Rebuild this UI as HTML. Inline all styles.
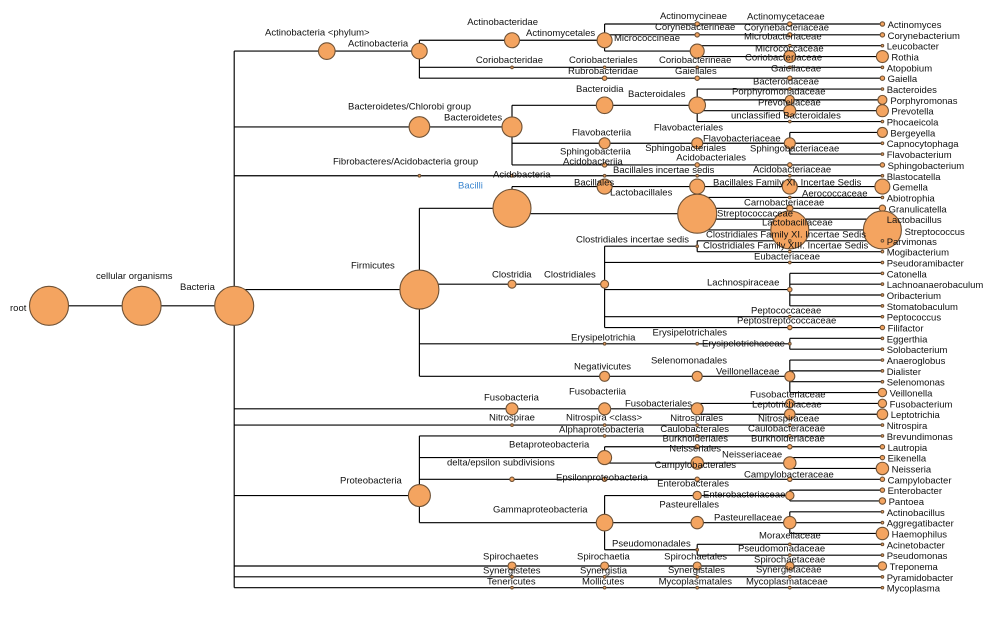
<!DOCTYPE html>
<html><head><meta charset="utf-8"><style>
html,body{margin:0;padding:0;background:#fff;}
svg{display:block;}
text{font-family:"Liberation Sans",Arial,sans-serif;font-size:9.5px;fill:#111;}
.e{text-anchor:end;}
circle{fill:#f4a460;stroke:#6f5236;stroke-width:1.1;}
</style></head><body>
<svg width="1007" height="618" viewBox="0 0 1007 618" xmlns="http://www.w3.org/2000/svg">
<rect width="1007" height="618" fill="#fff"/>
<path fill="none" stroke="#000" stroke-width="1.15" d="
M604.6 24H882.4M604.6 34.84H882.4M419.4 40.26H604.6M697.2 45.68H882.4M234.2 51.1H419.4M604.6 51.1H697.2M697.2 56.52H882.4
M419.4 67.36H882.4M419.4 78.2H882.4M697.2 89.04H882.4M697.2 99.88H882.4M512 105.3H697.2M697.2 110.72H882.4M697.2 121.56H882.4
M234.2 126.98H512M789.8 132.4H882.4M512 143.24H882.4M789.8 154.08H882.4M512 164.92H882.4M234.2 175.76H882.4M512 186.6H882.4
M697.2 197.44H882.4M419.4 208.28H512M697.2 208.28H882.4M512 213.7H697.2M697.2 219.12H882.4M697.2 229.96H882.4M697.2 240.8H882.4
M604.6 246.22H697.2M697.2 251.64H882.4M604.6 262.48H882.4M789.8 273.32H882.4M419.4 284.16H604.6M789.8 284.16H882.4
M234.2 289.58H419.4M604.6 289.58H789.8M789.8 295H882.4M49 305.84H234.2M789.8 305.84H882.4M604.6 316.68H882.4M604.6 327.52H882.4
M789.8 338.36H882.4M419.4 343.78H789.8M789.8 349.2H882.4M789.8 360.04H882.4M789.8 370.88H882.4M419.4 376.3H789.8M789.8 381.72H882.4
M789.8 392.56H882.4M697.2 403.4H882.4M234.2 408.82H697.2M697.2 414.24H882.4M234.2 425.08H882.4M419.4 435.92H882.4M604.6 446.76H882.4
M419.4 457.6H604.6M789.8 457.6H882.4M604.6 463.02H789.8M789.8 468.44H882.4M419.4 479.28H882.4M789.8 490.12H882.4M234.2 495.54H419.4
M604.6 495.54H789.8M789.8 500.96H882.4M789.8 511.8H882.4M419.4 522.64H882.4M789.8 533.48H882.4M697.2 544.32H882.4M604.6 549.74H697.2
M697.2 555.16H882.4M234.2 566H882.4M234.2 576.84H882.4M234.2 587.68H882.4
M234.2 51.1V587.68M419.4 40.26V78.2M604.6 24V51.1M697.2 45.68V56.52M512 105.3V164.92M697.2 89.04V121.56M789.8 132.4V154.08
M419.4 208.28V376.3M512 186.6V213.7M697.2 197.44V229.96M604.6 246.22V327.52M697.2 240.8V251.64M789.8 273.32V305.84
M789.8 338.36V349.2M789.8 360.04V392.56M697.2 403.4V414.24M419.4 435.92V522.64M604.6 446.76V463.02M789.8 457.6V468.44
M604.6 495.54V549.74M789.8 490.12V500.96M789.8 511.8V533.48M697.2 544.32V555.16"/>

<g>
<circle cx="49" cy="305.84" r="19.5"/>
<circle cx="141.6" cy="305.84" r="19.5"/>
<circle cx="234.2" cy="305.84" r="19.5"/>
<circle cx="326.8" cy="51.1" r="8.3"/>
<circle cx="419.4" cy="51.1" r="7.8"/>
<circle cx="419.4" cy="126.98" r="10.3"/>
<circle cx="419.4" cy="175.76" r="1.3"/>
<circle cx="419.4" cy="289.58" r="19.5"/>
<circle cx="419.4" cy="495.54" r="11"/>

<circle cx="512" cy="40.26" r="7.5"/>
<circle cx="512" cy="67.36" r="1.3"/>
<circle cx="512" cy="126.98" r="10"/>
<circle cx="512" cy="175.76" r="1.3"/>
<circle cx="512" cy="208.28" r="19"/>
<circle cx="512" cy="284.16" r="4"/>
<circle cx="512" cy="408.82" r="6"/>
<circle cx="512" cy="425.08" r="1.3"/>
<circle cx="512" cy="479.28" r="2.2"/>
<circle cx="512" cy="566" r="4"/>
<circle cx="512" cy="576.84" r="1.3"/>
<circle cx="512" cy="587.68" r="1.3"/>

<circle cx="604.6" cy="40.26" r="7.5"/>
<circle cx="604.6" cy="67.36" r="1.3"/>
<circle cx="604.6" cy="78.2" r="2.2"/>
<circle cx="604.6" cy="105.3" r="8.3"/>
<circle cx="604.6" cy="143.24" r="5.5"/>
<circle cx="604.6" cy="164.92" r="2.2"/>
<circle cx="604.6" cy="175.76" r="1.3"/>
<circle cx="604.6" cy="186.6" r="7.5"/>
<circle cx="604.6" cy="284.16" r="4"/>
<circle cx="604.6" cy="343.78" r="1.3"/>
<circle cx="604.6" cy="376.3" r="5"/>
<circle cx="604.6" cy="408.82" r="6"/>
<circle cx="604.6" cy="425.08" r="1.3"/>
<circle cx="604.6" cy="435.92" r="1.3"/>
<circle cx="604.6" cy="457.6" r="7"/>
<circle cx="604.6" cy="479.28" r="2.2"/>
<circle cx="604.6" cy="522.64" r="8.3"/>
<circle cx="604.6" cy="566" r="4"/>
<circle cx="604.6" cy="576.84" r="1.3"/>
<circle cx="604.6" cy="587.68" r="1.3"/>

<circle cx="697.2" cy="24" r="2.2"/>
<circle cx="697.2" cy="34.84" r="2.2"/>
<circle cx="697.2" cy="51.1" r="7"/>
<circle cx="697.2" cy="67.36" r="1.3"/>
<circle cx="697.2" cy="78.2" r="2.2"/>
<circle cx="697.2" cy="105.3" r="8.3"/>
<circle cx="697.2" cy="143.24" r="5.5"/>
<circle cx="697.2" cy="164.92" r="2.2"/>
<circle cx="697.2" cy="175.76" r="1.3"/>
<circle cx="697.2" cy="186.6" r="7.5"/>
<circle cx="697.2" cy="213.7" r="19.5"/>
<circle cx="697.2" cy="246.22" r="1.3"/>
<circle cx="697.2" cy="343.78" r="1.3"/>
<circle cx="697.2" cy="376.3" r="5"/>
<circle cx="697.2" cy="408.82" r="6"/>
<circle cx="697.2" cy="425.08" r="1.3"/>
<circle cx="697.2" cy="435.92" r="1.3"/>
<circle cx="697.2" cy="446.76" r="2.2"/>
<circle cx="697.2" cy="463.02" r="6.2"/>
<circle cx="697.2" cy="479.28" r="2.2"/>
<circle cx="697.2" cy="495.54" r="4.2"/>
<circle cx="697.2" cy="522.64" r="6.2"/>
<circle cx="697.2" cy="549.74" r="1.3"/>
<circle cx="697.2" cy="566" r="4"/>
<circle cx="697.2" cy="576.84" r="1.3"/>
<circle cx="697.2" cy="587.68" r="1.3"/>

<circle cx="789.8" cy="24" r="2.2"/>
<circle cx="789.8" cy="34.84" r="2.2"/>
<circle cx="789.8" cy="45.68" r="1.3"/>
<circle cx="789.8" cy="56.52" r="6"/>
<circle cx="789.8" cy="67.36" r="1.3"/>
<circle cx="789.8" cy="78.2" r="2.2"/>
<circle cx="789.8" cy="89.04" r="1.3"/>
<circle cx="789.8" cy="99.88" r="4.5"/>
<circle cx="789.8" cy="110.72" r="6"/>
<circle cx="789.8" cy="121.56" r="1.3"/>
<circle cx="789.8" cy="143.24" r="5.5"/>
<circle cx="789.8" cy="164.92" r="2.2"/>
<circle cx="789.8" cy="175.76" r="1.3"/>
<circle cx="789.8" cy="186.6" r="7.5"/>
<circle cx="789.8" cy="197.44" r="1.3"/>
<circle cx="789.8" cy="208.28" r="3.2"/>
<circle cx="789.8" cy="219.12" r="1.3"/>
<circle cx="789.8" cy="229.96" r="19"/>
<circle cx="789.8" cy="240.8" r="1.3"/>
<circle cx="789.8" cy="251.64" r="1.3"/>
<circle cx="789.8" cy="262.48" r="1.3"/>
<circle cx="789.8" cy="289.58" r="2.2"/>
<circle cx="789.8" cy="316.68" r="1.3"/>
<circle cx="789.8" cy="327.52" r="2.2"/>
<circle cx="789.8" cy="343.78" r="1.3"/>
<circle cx="789.8" cy="376.3" r="5"/>
<circle cx="789.8" cy="403.4" r="4.2"/>
<circle cx="789.8" cy="414.24" r="5.3"/>
<circle cx="789.8" cy="425.08" r="1.3"/>
<circle cx="789.8" cy="435.92" r="1.3"/>
<circle cx="789.8" cy="446.76" r="2.2"/>
<circle cx="789.8" cy="463.02" r="6.2"/>
<circle cx="789.8" cy="479.28" r="2.2"/>
<circle cx="789.8" cy="495.54" r="4.2"/>
<circle cx="789.8" cy="522.64" r="6.2"/>
<circle cx="789.8" cy="544.32" r="1.3"/>
<circle cx="789.8" cy="555.16" r="1.3"/>
<circle cx="789.8" cy="566" r="4.2"/>
<circle cx="789.8" cy="576.84" r="1.3"/>
<circle cx="789.8" cy="587.68" r="1.3"/>

<circle cx="882.4" cy="24" r="2.2"/>
<circle cx="882.4" cy="34.84" r="2.2"/>
<circle cx="882.4" cy="45.68" r="1.3"/>
<circle cx="882.4" cy="56.52" r="6"/>
<circle cx="882.4" cy="67.36" r="1.3"/>
<circle cx="882.4" cy="78.2" r="2.2"/>
<circle cx="882.4" cy="89.04" r="1.3"/>
<circle cx="882.4" cy="99.88" r="4.5"/>
<circle cx="882.4" cy="110.72" r="6"/>
<circle cx="882.4" cy="121.56" r="1.3"/>
<circle cx="882.4" cy="132.4" r="5"/>
<circle cx="882.4" cy="143.24" r="1.3"/>
<circle cx="882.4" cy="154.08" r="1.3"/>
<circle cx="882.4" cy="164.92" r="2.2"/>
<circle cx="882.4" cy="175.76" r="1.3"/>
<circle cx="882.4" cy="186.6" r="7.5"/>
<circle cx="882.4" cy="197.44" r="1.3"/>
<circle cx="882.4" cy="208.28" r="3.2"/>
<circle cx="882.4" cy="219.12" r="1.3"/>
<circle cx="882.4" cy="229.96" r="19"/>
<circle cx="882.4" cy="240.8" r="1.3"/>
<circle cx="882.4" cy="251.64" r="1.3"/>
<circle cx="882.4" cy="262.48" r="1.3"/>
<circle cx="882.4" cy="273.32" r="1.3"/>
<circle cx="882.4" cy="284.16" r="1.3"/>
<circle cx="882.4" cy="295" r="1.3"/>
<circle cx="882.4" cy="305.84" r="1.3"/>
<circle cx="882.4" cy="316.68" r="1.3"/>
<circle cx="882.4" cy="327.52" r="2.2"/>
<circle cx="882.4" cy="338.36" r="1.3"/>
<circle cx="882.4" cy="349.2" r="1.3"/>
<circle cx="882.4" cy="360.04" r="1.3"/>
<circle cx="882.4" cy="370.88" r="1.3"/>
<circle cx="882.4" cy="381.72" r="1.3"/>
<circle cx="882.4" cy="392.56" r="4.2"/>
<circle cx="882.4" cy="403.4" r="4.2"/>
<circle cx="882.4" cy="414.24" r="5.3"/>
<circle cx="882.4" cy="425.08" r="1.3"/>
<circle cx="882.4" cy="435.92" r="1.3"/>
<circle cx="882.4" cy="446.76" r="2.2"/>
<circle cx="882.4" cy="457.6" r="2.2"/>
<circle cx="882.4" cy="468.44" r="6.2"/>
<circle cx="882.4" cy="479.28" r="2.2"/>
<circle cx="882.4" cy="490.12" r="2.2"/>
<circle cx="882.4" cy="500.96" r="3.2"/>
<circle cx="882.4" cy="511.8" r="1.3"/>
<circle cx="882.4" cy="522.64" r="1.3"/>
<circle cx="882.4" cy="533.48" r="6.2"/>
<circle cx="882.4" cy="544.32" r="1.3"/>
<circle cx="882.4" cy="555.16" r="1.3"/>
<circle cx="882.4" cy="566" r="4.2"/>
<circle cx="882.4" cy="576.84" r="1.3"/>
<circle cx="882.4" cy="587.68" r="1.3"/>
</g>

<g>
<text x="10" y="311">root</text>
<text x="96" y="279">cellular organisms</text>
<text x="180" y="290">Bacteria</text>
<text x="265" y="35.5">Actinobacteria &lt;phylum&gt;</text>
<text x="348" y="46.5">Actinobacteria</text>
<text x="348" y="109.5">Bacteroidetes/Chlorobi group</text>
<text x="444" y="120.5">Bacteroidetes</text>
<text x="333" y="164.5">Fibrobacteres/Acidobacteria group</text>
<text x="458" y="188.5" style="fill:#3a86d0">Bacilli</text>
<text x="351" y="268.5">Firmicutes</text>
<text x="340" y="483.5">Proteobacteria</text>

<text class="e" x="538" y="25">Actinobacteridae</text>
<text x="526" y="36">Actinomycetales</text>
<text class="e" x="543" y="63">Coriobacteridae</text>
<text x="569" y="63">Coriobacteriales</text>
<text x="568" y="74">Rubrobacteridae</text>
<text x="614" y="41">Micrococcineae</text>
<text class="e" x="727" y="19">Actinomycineae</text>
<text x="655" y="30">Corynebacterineae</text>
<text x="659" y="63">Coriobacterineae</text>
<text x="675" y="74">Gaiellales</text>
<text x="576" y="92">Bacteroidia</text>
<text x="628" y="97">Bacteroidales</text>
<text x="572" y="135.5">Flavobacteriia</text>
<text class="e" x="723" y="130.5">Flavobacteriales</text>
<text x="560" y="154.5">Sphingobacteriia</text>
<text class="e" x="726" y="151">Sphingobacteriales</text>
<text x="563" y="164.5">Acidobacteriia</text>
<text class="e" x="746" y="160.5">Acidobacteriales</text>
<text x="493" y="177.5">Acidobacteria</text>
<text x="613" y="173">Bacillales incertae sedis</text>
<text x="574" y="185.5">Bacillales</text>
<text x="610" y="195.5">Lactobacillales</text>
<text x="576" y="242.5">Clostridiales incertae sedis</text>
<text x="492" y="277.5">Clostridia</text>
<text x="544" y="277.5">Clostridiales</text>
<text x="571" y="340.5">Erysipelotrichia</text>
<text class="e" x="727" y="335.5">Erysipelotrichales</text>
<text x="574" y="369.5">Negativicutes</text>
<text class="e" x="727" y="363.5">Selenomonadales</text>
<text x="484" y="400.5">Fusobacteria</text>
<text x="569" y="394.5">Fusobacteriia</text>
<text x="625" y="406.5">Fusobacteriales</text>
<text x="489" y="420.5">Nitrospirae</text>
<text x="566" y="420.5">Nitrospira &lt;class&gt;</text>
<text class="e" x="723" y="421">Nitrospirales</text>
<text x="559" y="432.5">Alphaproteobacteria</text>
<text class="e" x="729" y="432">Caulobacterales</text>
<text x="509" y="447.5">Betaproteobacteria</text>
<text class="e" x="728" y="441.5">Burkholderiales</text>
<text class="e" x="721" y="451.5">Neisseriales</text>
<text x="447" y="465.5">delta/epsilon subdivisions</text>
<text class="e" x="736" y="468">Campylobacterales</text>
<text x="556" y="480.5">Epsilonproteobacteria</text>
<text class="e" x="729" y="486.5">Enterobacterales</text>
<text x="493" y="512.5">Gammaproteobacteria</text>
<text class="e" x="719" y="507.5">Pasteurellales</text>
<text x="612" y="546.5">Pseudomonadales</text>
<text x="483" y="559.5">Spirochaetes</text>
<text x="577" y="559.5">Spirochaetia</text>
<text class="e" x="727" y="559.5">Spirochaetales</text>
<text x="483" y="573.5">Synergistetes</text>
<text x="580" y="573.5">Synergistia</text>
<text class="e" x="725" y="573">Synergistales</text>
<text x="487" y="584.5">Tenericutes</text>
<text x="582" y="584.5">Mollicutes</text>
<text class="e" x="732" y="584.5">Mycoplasmatales</text>

<text x="747" y="19.5">Actinomycetaceae</text>
<text x="744" y="30.5">Corynebacteriaceae</text>
<text x="744" y="39.5">Microbacteriaceae</text>
<text x="755" y="51.5">Micrococcaceae</text>
<text x="745" y="60.5">Coriobacteriaceae</text>
<text x="771" y="71.5">Gaiellaceae</text>
<text x="753" y="84.5">Bacteroidaceae</text>
<text x="732" y="94.5">Porphyromonadaceae</text>
<text x="758" y="105.5">Prevotellaceae</text>
<text x="731" y="118.5">unclassified Bacteroidales</text>
<text x="703" y="141.5">Flavobacteriaceae</text>
<text x="750" y="151.5">Sphingobacteriaceae</text>
<text x="753" y="172.5">Acidobacteriaceae</text>
<text x="713" y="185.5">Bacillales Family XI. Incertae Sedis</text>
<text x="802" y="196.5">Aerococcaceae</text>
<text x="744" y="205.5">Carnobacteriaceae</text>
<text x="717" y="216.5">Streptococcaceae</text>
<text x="762" y="225.5">Lactobacillaceae</text>
<text x="706" y="237.5">Clostridiales Family XI. Incertae Sedis</text>
<text x="703" y="248.5">Clostridiales Family XIII. Incertae Sedis</text>
<text x="754" y="259.5">Eubacteriaceae</text>
<text x="707" y="285.5">Lachnospiraceae</text>
<text x="751" y="313.5">Peptococcaceae</text>
<text x="737" y="323.5">Peptostreptococcaceae</text>
<text x="702" y="346.5">Erysipelotrichaceae</text>
<text x="716" y="374.5">Veillonellaceae</text>
<text x="750" y="397.5">Fusobacteriaceae</text>
<text x="752" y="407.5">Leptotrichiaceae</text>
<text x="758" y="421.5">Nitrospiraceae</text>
<text x="748" y="431.5">Caulobacteraceae</text>
<text x="751" y="441.5">Burkholderiaceae</text>
<text x="722" y="457.5">Neisseriaceae</text>
<text x="744" y="477.5">Campylobacteraceae</text>
<text x="703" y="497.5">Enterobacteriaceae</text>
<text x="714" y="520.5">Pasteurellaceae</text>
<text x="759" y="538.5">Moraxellaceae</text>
<text x="738" y="551.5">Pseudomonadaceae</text>
<text x="754" y="562.5">Spirochaetaceae</text>
<text x="756" y="572.5">Synergistaceae</text>
<text x="746" y="584.5">Mycoplasmataceae</text>

<text x="887.6" y="28">Actinomyces</text>
<text x="887.6" y="38.84">Corynebacterium</text>
<text x="886.7" y="49.68">Leucobacter</text>
<text x="891.4" y="60.52">Rothia</text>
<text x="886.7" y="71.36">Atopobium</text>
<text x="887.6" y="82.2">Gaiella</text>
<text x="886.7" y="93.04">Bacteroides</text>
<text x="890.4" y="104">Porphyromonas</text>
<text x="891.4" y="114.72">Prevotella</text>
<text x="886.7" y="125.56">Phocaeicola</text>
<text x="890.4" y="136.4">Bergeyella</text>
<text x="886.7" y="147.24">Capnocytophaga</text>
<text x="886.7" y="158.08">Flavobacterium</text>
<text x="887.6" y="168.92">Sphingobacterium</text>
<text x="886.7" y="179.76">Blastocatella</text>
<text x="892.5" y="190.6">Gemella</text>
<text x="886.7" y="201.44">Abiotrophia</text>
<text x="888.6" y="212.28">Granulicatella</text>
<text x="886.7" y="223.12">Lactobacillus</text>
<text x="904.6" y="235">Streptococcus</text>
<text x="886.7" y="244.8">Parvimonas</text>
<text x="886.7" y="255.64">Mogibacterium</text>
<text x="886.7" y="266.48">Pseudoramibacter</text>
<text x="886.7" y="277.32">Catonella</text>
<text x="886.7" y="288.16">Lachnoanaerobaculum</text>
<text x="886.7" y="299">Oribacterium</text>
<text x="886.7" y="309.84">Stomatobaculum</text>
<text x="886.7" y="320.68">Peptococcus</text>
<text x="887.6" y="331.52">Filifactor</text>
<text x="886.7" y="342.36">Eggerthia</text>
<text x="886.7" y="353.2">Solobacterium</text>
<text x="886.7" y="364.04">Anaeroglobus</text>
<text x="886.7" y="374.88">Dialister</text>
<text x="886.7" y="385.72">Selenomonas</text>
<text x="889.6" y="396.56">Veillonella</text>
<text x="889.6" y="407.4">Fusobacterium</text>
<text x="890.7" y="418.24">Leptotrichia</text>
<text x="886.7" y="429.08">Nitrospira</text>
<text x="886.7" y="439.92">Brevundimonas</text>
<text x="887.6" y="450.76">Lautropia</text>
<text x="887.6" y="461.6">Eikenella</text>
<text x="891.6" y="472.44">Neisseria</text>
<text x="887.6" y="483.28">Campylobacter</text>
<text x="887.6" y="494.12">Enterobacter</text>
<text x="888.6" y="504.96">Pantoea</text>
<text x="886.7" y="515.8">Actinobacillus</text>
<text x="886.7" y="526.64">Aggregatibacter</text>
<text x="891.6" y="537.48">Haemophilus</text>
<text x="886.7" y="548.32">Acinetobacter</text>
<text x="886.7" y="559.16">Pseudomonas</text>
<text x="889.6" y="570">Treponema</text>
<text x="886.7" y="580.84">Pyramidobacter</text>
<text x="886.7" y="591.68">Mycoplasma</text>
</g>
</svg>
</body></html>
